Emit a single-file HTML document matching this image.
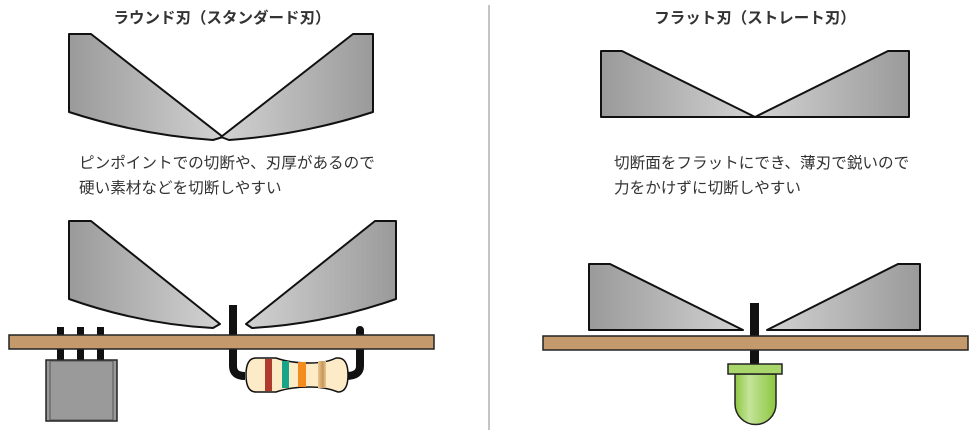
<!DOCTYPE html>
<html><head><meta charset="utf-8"><style>
html,body{margin:0;padding:0;background:#fff;}
svg{display:block;}
text{font-family:"Liberation Sans","Noto Sans CJK JP",sans-serif;}
</style></head><body>
<svg width="979" height="430" viewBox="0 0 979 430" xmlns="http://www.w3.org/2000/svg">
<defs>
<linearGradient id="gl" x1="0" x2="1" y1="0" y2="0"><stop offset="0" stop-color="#9a9a9a"/><stop offset="1" stop-color="#d2d2d2"/></linearGradient>
<linearGradient id="gr" x1="1" x2="0" y1="0" y2="0"><stop offset="0" stop-color="#9a9a9a"/><stop offset="1" stop-color="#d2d2d2"/></linearGradient>
<linearGradient id="led" x1="0" x2="1"><stop offset="0" stop-color="#8cc63f"/><stop offset="0.35" stop-color="#c4e49a"/><stop offset="1" stop-color="#8cc63f"/></linearGradient>
<linearGradient id="tan" x1="0" x2="1"><stop offset="0" stop-color="#e8c890"/><stop offset="0.6" stop-color="#c8965a"/><stop offset="1" stop-color="#e8c890"/></linearGradient>
</defs>
<line x1="489" y1="5" x2="489" y2="430" stroke="#888" stroke-width="1"/>
<text x="222" y="23" font-size="15.5" font-weight="bold" fill="#333" text-anchor="middle">ラウンド刃（スタンダード刃）</text>
<text x="755" y="23" font-size="15.5" font-weight="bold" fill="#333" text-anchor="middle">フラット刃（ストレート刃）</text>
<text x="79" y="168" font-size="15.6" fill="#333">ピンポイントでの切断や、刃厚があるので</text>
<text x="79" y="193" font-size="15.6" fill="#333">硬い素材などを切断しやすい</text>
<text x="614" y="168" font-size="15.6" fill="#333">切断面をフラットにでき、薄刃で鋭いので</text>
<text x="614" y="193" font-size="15.6" fill="#333">力をかけずに切断しやすい</text>

<g stroke="#111" stroke-width="2" stroke-linejoin="round">
<path d="M69,34 L91,34 L223,137 L213,140 Q140,135 69,112 Z" fill="url(#gl)"/>
<path d="M373,34 L353,34 L221,137 L229,140 Q302,135 373,112 Z" fill="url(#gr)"/>
<path d="M601,51 L622,51 L755,117 L601,117 Z" fill="url(#gl)"/>
<path d="M909,51 L888,51 L755,117 L909,117 Z" fill="url(#gr)"/>
<path d="M69,221 L91,221 L220,324 L213,328 Q140,324 69,299 Z" fill="url(#gl)"/>
<path d="M396,221 L375,221 L246,324 L252,328 Q325,324 396,299 Z" fill="url(#gr)"/>
<path d="M589,264 L610,264 L743,330 L589,330 Z" fill="url(#gl)"/>
<path d="M920,264 L898,264 L767,330 L920,330 Z" fill="url(#gr)"/>
</g>

<rect x="229" y="305" width="8" height="30" fill="#111"/>
<path d="M233,349 L233,366 Q233,376 245,376" stroke="#111" stroke-width="8" fill="none"/>
<path d="M360,330 L360,366 Q360,376 346,376" stroke="#111" stroke-width="8" fill="none" stroke-linecap="round"/>
<rect x="57" y="327" width="7" height="34" fill="#111"/>
<rect x="77" y="327" width="7" height="34" fill="#111"/>
<rect x="97" y="327" width="7" height="34" fill="#111"/>
<rect x="9" y="335" width="425" height="14" fill="#c49a6c" stroke="#222" stroke-width="1.5"/>
<rect x="46" y="360" width="71" height="61" fill="#999" stroke="#222" stroke-width="1.5"/>
<rect x="50" y="361" width="63" height="59" fill="#9a9a9a" stroke="#555" stroke-width="1"/>
<path d="M256,358 L276,358 Q290,363 310,363 Q326,363 336,358 L338,358 Q348,358 348,375 Q348,392 338,392 Q326,387 310,387 Q290,387 276,392 L256,392 Q246,392 246,375 Q246,358 256,358 Z" fill="#fdebc8" stroke="#111" stroke-width="1.5"/>
<rect x="265" y="359" width="7" height="32" fill="#b03a2e"/>
<rect x="282" y="361" width="7" height="27" fill="#17a589"/>
<rect x="298" y="362" width="8" height="25" fill="#f28c1e"/>
<rect x="318" y="361" width="8" height="27" fill="url(#tan)"/>

<rect x="750" y="303" width="9" height="62" fill="#111"/>
<rect x="543" y="336" width="425" height="14" fill="#c49a6c" stroke="#222" stroke-width="1.5"/>
<rect x="750" y="351" width="9" height="14" fill="#111"/>
<path d="M735,374 L776,374 L776,404 A20.5,20.5 0 0 1 735,404 Z" fill="url(#led)" stroke="#222" stroke-width="1.5"/>
<rect x="728" y="364" width="54" height="10" fill="#a8d66a" stroke="#222" stroke-width="1.5"/>
</svg>
</body></html>
